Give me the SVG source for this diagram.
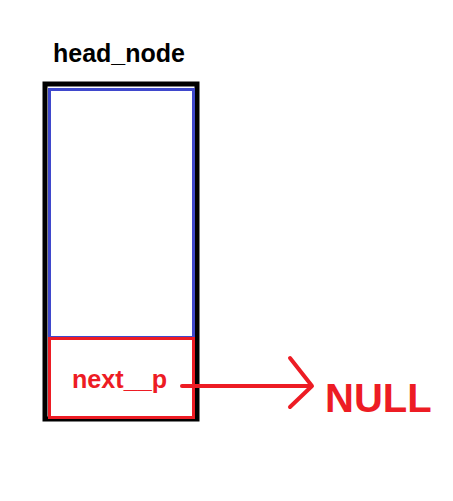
<svg xmlns="http://www.w3.org/2000/svg" width="453" height="501" viewBox="0 0 453 501">
<style>
.lbl{font-family:"Liberation Sans",Arial,sans-serif;font-weight:bold}
</style>
<rect width="453" height="501" fill="#ffffff"/>
<g id="head_node">
<text class="lbl" x="53" y="62" font-size="25" fill="#000000">head_node</text>
<rect x="45" y="84" width="152" height="335" fill="#ffffff" stroke="#000000" stroke-width="5"/>
<rect x="49.5" y="89.5" width="144" height="248" fill="#ffffff" stroke="#3f48cc" stroke-width="3"/>
<rect x="49.5" y="338.5" width="144" height="79" fill="#ffffff" stroke="#ed1c24" stroke-width="3"/>
<text class="lbl" x="72" y="388" font-size="26" fill="#ed1c24" textLength="95" lengthAdjust="spacingAndGlyphs">next__p</text>
</g>
<g id="null">
<text class="lbl" x="325" y="412" font-size="40" fill="#ed1c24">NULL</text>
</g>
<g id="connectors" fill="none" stroke="#ed1c24" stroke-width="4" stroke-linecap="round" stroke-linejoin="round">
<line x1="182" y1="386" x2="311" y2="386"/>
<polyline points="290,358 312,386 290,407"/>
</g>
</svg>
